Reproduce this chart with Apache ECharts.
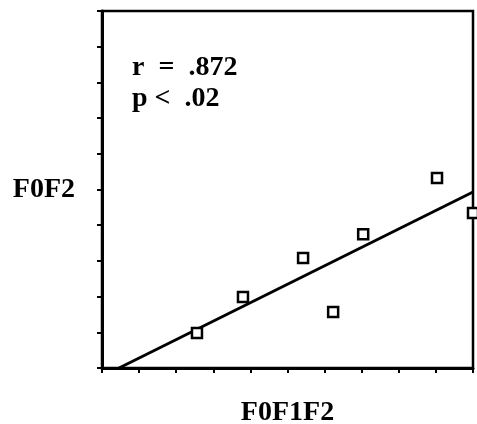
<!DOCTYPE html>
<html>
<head>
<meta charset="utf-8">
<script src="https://cdn.jsdelivr.net/npm/echarts@6/dist/echarts.min.js"></script>
<style>
  html, body { margin: 0; padding: 0; background: #fff; }
  #chart { width: 477px; height: 424px; }
</style>
</head>
<body>
<div id="chart"></div>
<script>
// measured points (F0F1F2 vs F0F2)
const xVals = [2.56, 3.8, 5.42, 6.23, 7.04, 9.03, 10.0];
const yVals = [0.98, 1.99, 3.08, 1.57, 3.75, 5.32, 4.34];
// regression line end points
const fitX = [0.46, 10];
const fitY = [0, 4.93];
const statLines = ['r  =  .872', 'p <  .02'];

const points = xVals.map((x, i) => [x, yVals[i]]);
const fit = fitX.map((x, i) => [x, fitY[i]]);
const serif = '"Liberation Serif", "Times New Roman", serif';

const chart = echarts.init(document.getElementById('chart'));
chart.setOption({
    animation: false,
    backgroundColor: '#fff',
    grid: {
        left: 102, right: 4, top: 11, bottom: 56,
        outerBoundsMode: 'none', containLabel: false,
        show: true, borderColor: '#000', borderWidth: 2.5
    },
    xAxis: {
        type: 'value', min: 0, max: 10, interval: 1,
        name: 'F0F1F2', nameLocation: 'middle', nameGap: 31,
        nameTextStyle: { fontFamily: serif, fontWeight: 'bold', fontSize: 28, color: '#000' },
        axisLine: { show: true, lineStyle: { color: '#000', width: 3 } },
        axisTick: { show: true, length: 5, lineStyle: { color: '#000', width: 2 } },
        axisLabel: { show: false },
        splitLine: { show: false }
    },
    yAxis: {
        type: 'value', min: 0, max: 10, interval: 1,
        name: 'F0F2', nameLocation: 'middle', nameGap: 27, nameRotate: 0,
        nameTextStyle: { fontFamily: serif, fontWeight: 'bold', fontSize: 28, color: '#000' },
        axisLine: { show: true, lineStyle: { color: '#000', width: 3 } },
        axisTick: { show: true, length: 5, lineStyle: { color: '#000', width: 2 } },
        axisLabel: { show: false },
        splitLine: { show: false }
    },
    graphic: [{
        type: 'text', left: 132, top: 52,
        style: {
            text: statLines.join('\n'), fill: '#000',
            font: 'bold 28px ' + serif, lineHeight: 31
        }
    }],
    series: [
        {
            type: 'line', data: fit, symbol: 'none', z: 1,
            lineStyle: { color: '#000', width: 3 }
        },
        {
            type: 'scatter', data: points, symbol: 'rect', symbolSize: 10, z: 3,
            clip: false,
            itemStyle: { color: '#fff', borderColor: '#000', borderWidth: 2.5, opacity: 1 }
        }
    ]
});
</script>
</body>
</html>
